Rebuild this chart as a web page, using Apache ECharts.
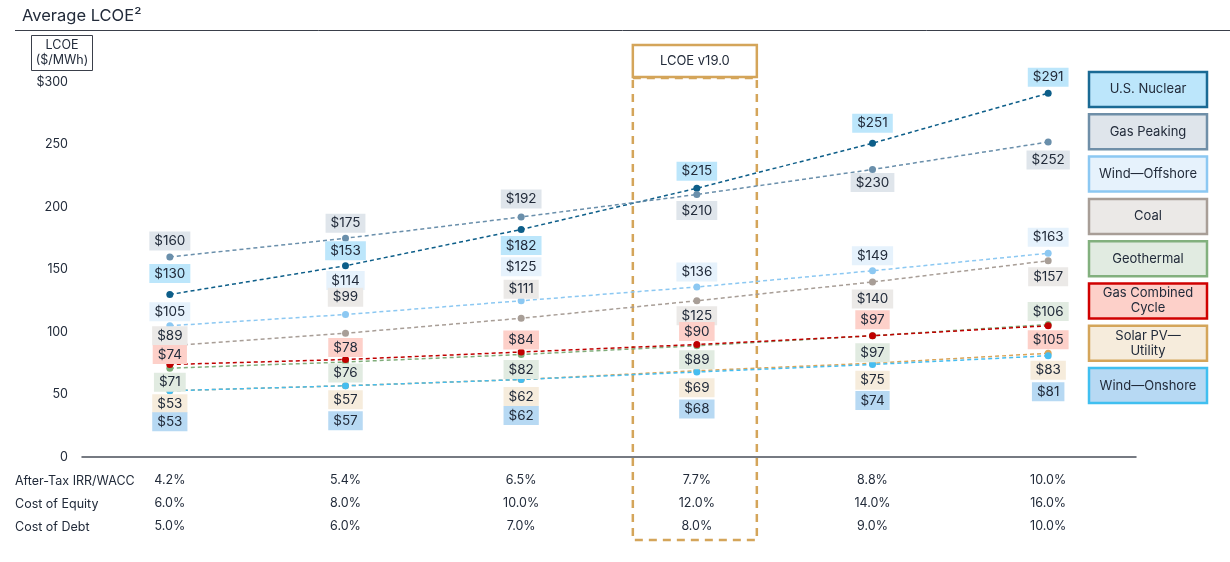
<!DOCTYPE html>
<html>
<head>
<meta charset="utf-8">
<script src="https://cdn.jsdelivr.net/npm/echarts@6/dist/echarts.min.js"></script>
<style>
  html, body { margin: 0; padding: 0; background: #fff; }
  #chart { width: 1230px; height: 562px; }
</style>
</head>
<body>
<div id="chart"></div>
<script>
// WACC scenarios (x axis) and the two rows shown under them
const categories = ['4.2%', '5.4%', '6.5%', '7.7%', '8.8%', '10.0%']
const costOfEquity = ['6.0%', '8.0%', '10.0%', '12.0%', '14.0%', '16.0%']
const costOfDebt = ['5.0%', '6.0%', '7.0%', '8.0%', '9.0%', '10.0%']
const rowHeaders = ['After-Tax IRR/WACC', 'Cost of Equity', 'Cost of Debt']

const techNames = ['U.S. Nuclear', 'Gas Peaking', 'Wind—Offshore', 'Coal', 'Geothermal',
  'Gas Combined\nCycle', 'Solar PV—\nUtility', 'Wind—Onshore']

// LCOE $/MWh
const nuclear = [130, 153, 182, 215, 251, 291]
const gasPeaking = [160, 175, 192, 210, 230, 252]
const windOffshore = [105, 114, 125, 136, 149, 163]
const coal = [89, 99, 111, 125, 140, 157]
const geothermal = [71, 76, 82, 89, 97, 106]
const gasCombined = [74, 78, 84, 90, 97, 105]
const solarUtility = [53, 57, 62, 69, 75, 83]
const windOnshore = [53, 57, 62, 68, 74, 81]

const seriesValues = [nuclear, gasPeaking, windOffshore, coal, geothermal, gasCombined, solarUtility, windOnshore]

// styling: line colour, label/legend fill, legend border
const lineColors = ['#0d5e89', '#6a8fab', '#8cc8f2', '#a89e97', '#80ad7b', '#c00000', '#d9a55a', '#45bdf0']
const fillColors = ['#bce6fb', '#dfe5eb', '#e6f2fc', '#ebe9e7', '#e1ebe1', '#fdd0c9', '#f6ecdc', '#b7d9f3']
const borderColors = ['#1a6a94', '#6f8fa8', '#8cc8f2', '#a89e97', '#82b07e', '#d00000', '#d4a55a', '#40bff0']
// vertical shift of each value label from its point (px)
const labelShift = [
  [-21, -15, 16, -17, -20, -16],
  [-16, -15, -18, 16, 13, 18],
  [-14, -34, -34, -15, -15, -16],
  [-10, -36, -29, 15, 17, 16],
  [14, 11, 15, 14, 17, -13],
  [-10, -12, -12, -13, -16, 14],
  [13, 14, 17, 17, 17, 17],
  [31, 35, 36, 37, 36, 36]
]

const FONT = 'Inter, "Liberation Sans", sans-serif'
const TEXT = '#222b3a'

const chart = echarts.init(document.getElementById('chart'))

const series = seriesValues.map((vals, s) => ({
  name: techNames[s],
  type: 'line',
  data: vals.map((v, i) => ({
    value: v,
    label: { offset: [0, labelShift[s][i]] }
  })),
  symbol: 'circle',
  symbolSize: 7,
  itemStyle: { color: lineColors[s] },
  lineStyle: { color: lineColors[s], width: 1.5, type: [4, 3] },
  label: {
    show: true,
    position: 'inside',
    formatter: p => '$' + p.value,
    color: TEXT,
    fontFamily: FONT,
    fontSize: 13.5,
    backgroundColor: fillColors[s],
    padding: [3, 5, 2, 5]
  },
  emphasis: { disabled: true },
  z: 2
}))

chart.setOption({
  animation: false,
  grid: { left: 82, right: 94, top: 82, bottom: 105 },
  xAxis: {
    type: 'category',
    data: categories,
    axisLine: { lineStyle: { color: '#4a4f5a', width: 1.5 } },
    axisTick: { show: false },
    axisLabel: {
      margin: 12,
      color: TEXT,
      fontFamily: FONT,
      fontSize: 12.5,
      lineHeight: 23,
      formatter: (v, i) => v + '\n' + costOfEquity[i] + '\n' + costOfDebt[i]
    }
  },
  yAxis: {
    type: 'value',
    min: 0,
    max: 300,
    interval: 50,
    axisLine: { show: false },
    axisTick: { show: false },
    splitLine: { show: false },
    axisLabel: {
      margin: 14,
      color: TEXT,
      fontFamily: FONT,
      fontSize: 12.5,
      formatter: v => (v === 300 ? '$300' : String(v))
    }
  },
  series: series
})

// annotations: title, unit box, row headers, LCOE v19.0 highlight, legend boxes
const gfx = []
gfx.push({
  type: 'text', x: 22, y: 16,
  style: { text: 'Average LCOE²', font: '16.5px ' + FONT, fill: TEXT, verticalAlign: 'middle' }
})
gfx.push({
  type: 'line', shape: { x1: 15, y1: 30.5, x2: 1230, y2: 30.5 },
  style: { stroke: '#3a3f4a', lineWidth: 1 }
})
gfx.push({
  type: 'rect', shape: { x: 31.5, y: 35.5, width: 61, height: 35 },
  style: { fill: '#fff', stroke: '#3a3f4a', lineWidth: 1 }
})
gfx.push({
  type: 'text', x: 62, y: 53,
  style: { text: 'LCOE\n($/MWh)', font: '12.5px ' + FONT, fill: TEXT, align: 'center', verticalAlign: 'middle', lineHeight: 15 }
})
rowHeaders.forEach((h, i) => {
  gfx.push({
    type: 'text', x: 15, y: 481 + i * 23,
    style: { text: h, font: '12.5px ' + FONT, fill: TEXT, verticalAlign: 'middle' }
  })
})

const cx = chart.convertToPixel({ xAxisIndex: 0 }, 3)
gfx.push({
  type: 'rect', shape: { x: cx - 64, y: 78, width: 124, height: 462 },
  style: { fill: 'none', stroke: '#d4a55a', lineWidth: 2.5, lineDash: [8, 6] },
  z: 1
})
gfx.push({
  type: 'rect', shape: { x: cx - 64, y: 45, width: 124, height: 32 },
  style: { fill: '#fff', stroke: '#d4a55a', lineWidth: 2.5 }
})
gfx.push({
  type: 'text', x: cx - 2, y: 61,
  style: { text: 'LCOE v19.0', font: '13px ' + FONT, fill: TEXT, align: 'center', verticalAlign: 'middle' }
})

techNames.forEach((name, s) => {
  const top = 72 + s * 42.3
  gfx.push({
    type: 'rect', shape: { x: 1089, y: top, width: 118, height: 35 },
    style: { fill: fillColors[s], stroke: borderColors[s], lineWidth: 2.5 }
  })
  gfx.push({
    type: 'text', x: 1148, y: top + 17.5,
    style: { text: name, font: '13px ' + FONT, fill: TEXT, align: 'center', verticalAlign: 'middle', lineHeight: 15 }
  })
})

chart.setOption({ graphic: { elements: gfx } })
</script>
</body>
</html>
